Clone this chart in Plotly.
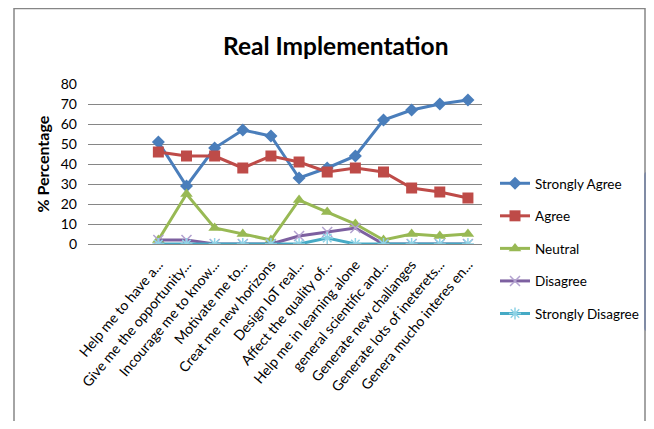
import plotly.graph_objects as go

categories = [
    "Help me to have a...",
    "Give me the opportunity...",
    "Incourage me to know...",
    "Motivate me to...",
    "Creat me new horizons",
    "Design IoT real...",
    "Affect the quality of...",
    "Help me in learning alone",
    "general scientific and...",
    "Generate new challanges",
    "Generate lots of ineterets...",
    "Genera mucho interes en...",
]
strongly_agree = [51, 29, 48, 57, 54, 33, 38, 44, 62, 67, 70, 72]
agree = [46, 44, 44, 38, 44, 41, 36, 38, 36, 28, 26, 23]
neutral = [2, 25, 8, 5, 2, 22, 16, 10, 2, 5, 4, 5]
disagree = [2, 2, 0, 0, 0, 4, 6, 8, 0, 0, 0, 0]
strongly_disagree = [0, 0, 0, 0, 0, 0, 3, 0, 0, 0, 0, 0]
y_ticks = [0, 10, 20, 30, 40, 50, 60, 70, 80]

FONT = "Lato, 'DejaVu Sans', sans-serif"

series = [
    ("Strongly Agree", strongly_agree, "#4A7EBB", dict(symbol="diamond", size=10, color="#4A7EBB")),
    ("Agree", agree, "#BE4B48", dict(symbol="square", size=11, color="#BE4B48")),
    ("Neutral", neutral, "#98B954", dict(symbol="triangle-up", size=11, color="#98B954")),
    ("Disagree", disagree, "#7D60A0", dict(symbol="x-thin-open", size=10, color="#B3A2D0",
                                            line=dict(width=1.5, color="#B3A2D0"))),
    ("Strongly Disagree", strongly_disagree, "#46AAC5", dict(symbol="asterisk-open", size=10, color="#8FD3E6",
                                                              line=dict(width=1.5, color="#8FD3E6"))),
]

fig = go.Figure()
for i, (name, vals, col, mk) in enumerate(series):
    fig.add_trace(go.Scatter(
        x=categories, y=vals, name=name, mode="lines+markers",
        line=dict(color=col, width=3), marker=mk, legendgroup=f"g{i}",
    ))

OFF = 8  # page body margin
W, H = 654 - 2 * OFF, 429 - 2 * OFF
# plot area in screen coordinates
L, R, T, B = 88, 482, 84, 244
def px(x):
    return (x - L) / (R - L)
def py(y):
    return (B - y) / (B - T)

fig.update_layout(
    width=W, height=H,
    margin=dict(l=L - OFF, r=W - (R - OFF), t=T - OFF, b=H - (B - OFF), autoexpand=False),
    paper_bgcolor="white", plot_bgcolor="white",
    font=dict(family=FONT, size=12, color="#000000"),
    showlegend=True,
    legend=dict(x=px(495), y=py(168), xanchor="left", yanchor="top",
                font=dict(size=13.5, family=FONT), traceorder="grouped",
                tracegroupgap=12, itemwidth=30, bgcolor="rgba(0,0,0,0)"),
    xaxis=dict(type="category", range=[-2.5, 11.5], tickangle=-50,
               showgrid=False, showline=True, linecolor="#868686", linewidth=1,
               ticks="", tickfont=dict(size=14, family=FONT), fixedrange=True,
               automargin=False, ticklabelstandoff=6),
    yaxis=dict(range=[0, 80], tickvals=y_ticks, showgrid=True, gridcolor="#868686",
               gridwidth=1, zeroline=False, showline=False, ticks="",
               tickfont=dict(size=14, family=FONT), fixedrange=True,
               automargin=False, ticklabelstandoff=10),
    shapes=[dict(type="rect", xref="paper", yref="paper",
                 x0=px(14), x1=px(645), y0=py(440), y1=py(8.5),
                 line=dict(color="#868686", width=1.5))],
    annotations=[
        dict(text="<b>Real Implementation</b>", xref="paper", yref="paper",
             x=px(335), y=py(46), xanchor="center", yanchor="middle",
             showarrow=False, font=dict(size=24.5, family=FONT)),
        dict(text="<b>% Percentage</b>", xref="paper", yref="paper",
             x=px(41.5), y=py(164), xanchor="center", yanchor="middle",
             showarrow=False, textangle=-90,
             font=dict(size=16, family=FONT)),
    ],
)

fig.write_html("out.html")
